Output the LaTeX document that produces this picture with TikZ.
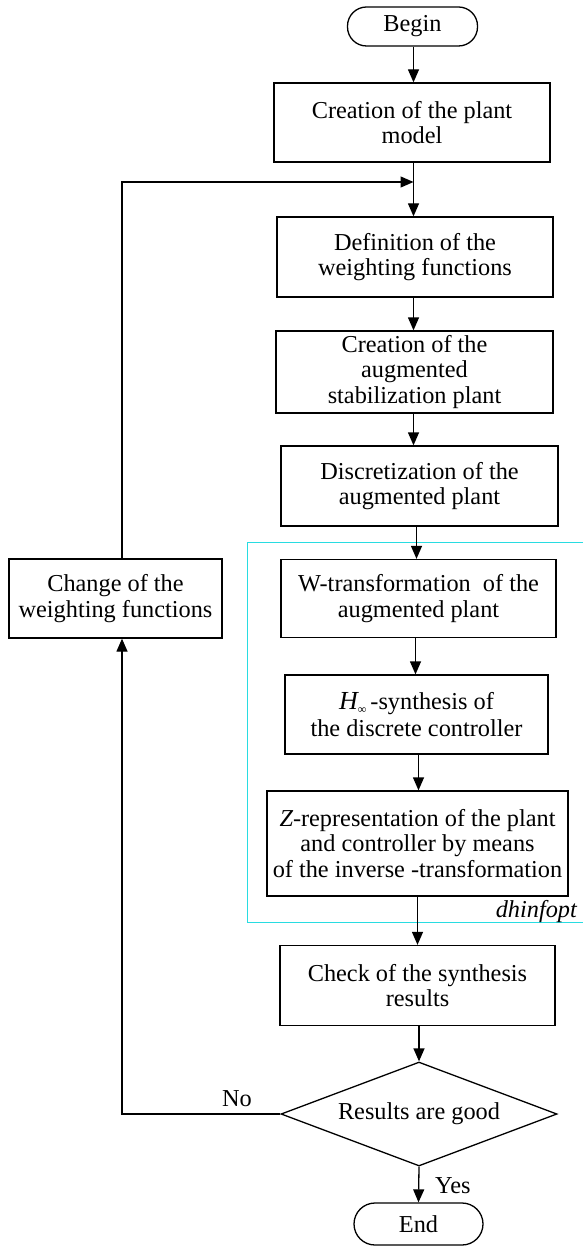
\documentclass[tikz,border=0pt]{standalone}
\usepackage{fontspec}
\setmainfont{Liberation Serif}
\usetikzlibrary{arrows.meta,shapes.geometric}
\tikzset{
  stepbox/.style={draw,line width=1.3pt,rectangle,align=center,inner sep=0pt},
  termbox/.style={draw,line width=1.3pt,rectangle,rounded corners=19pt,align=center,inner sep=0pt},
  decbox/.style={draw,line width=1.3pt,diamond,shape aspect=2.65,align=center,inner sep=0pt,minimum width=276pt,minimum height=104pt},
  flow/.style={line width=1.3pt,-{Triangle[length=13pt,width=11pt]}},
  frameline/.style={draw={rgb,255:red,40;green,220;blue,225},line width=1pt},
  lbl/.style={inner sep=0pt}
}
\begin{document}
\begin{tikzpicture}[x=1pt,y=-1pt,every node/.style={font=\fontsize{24.3}{25.5}\selectfont}]
\useasboundingbox (0,0) rectangle (583,1246);
% dhinfopt frame
\draw[frameline] (583,542) -- (247,542) -- (247,922) -- (583,922);
\node[lbl,font=\fontsize{24.3}{25.5}\selectfont\itshape,anchor=base east] (dh) at (577,917) {dhinfopt};

\node[termbox,minimum width=130pt,minimum height=39pt] (begin) at (412.5,26.5) {Begin};
\node[stepbox,minimum width=276pt,minimum height=79pt] (b1) at (412,122.5) {Creation of the plant\\model};
\node[stepbox,minimum width=276pt,minimum height=80pt] (b2) at (415,257) {Definition of the\\weighting functions};
\node[stepbox,minimum width=277pt,minimum height=82pt] (b3) at (414.5,372) {Creation of the\\augmented\\stabilization plant};
\node[stepbox,minimum width=277pt,minimum height=80pt] (b4) at (419.5,486) {Discretization of the\\augmented plant};
\node[stepbox,minimum width=275pt,minimum height=78pt] (b5) at (418.5,598.5) {W-transformation\ \ of the\\augmented plant};
\node[stepbox,minimum width=263pt,minimum height=79pt] (b6) at (416.5,714.5) {{\fontsize{26}{26}\selectfont\itshape H}\raisebox{-0.3ex}{\fontsize{12}{12}\selectfont ∞}\,-synthesis of\\[1pt]the discrete controller};
\node[stepbox,minimum width=301pt,minimum height=105pt] (b7) at (417.5,843.5) {{\itshape Z}-representation of the plant\\and controller by means\\of the inverse -transformation};
\node[stepbox,minimum width=275pt,minimum height=80pt] (b8) at (417.5,985.5) {Check of the synthesis\\results};
\node[decbox] (dec) at (419,1114) {Results are good};
\node[termbox,minimum width=129pt,minimum height=42pt,rounded corners=21pt] (end) at (418.5,1224) {End};
\node[stepbox,minimum width=213pt,minimum height=79pt] (chg) at (115.5,598.5) {Change of the\\weighting functions};

\coordinate (merge) at (413.5,182);
\coordinate (fbtop) at (122,182);
\coordinate (fbbot) at (122,1114);

\draw[flow] (begin.south -| merge) -- (b1.north -| merge);
\draw[flow] (b1.south -| merge) -- (b2.north -| merge);
\draw[flow] (b2.south -| merge) -- (b3.north -| merge);
\draw[flow] (b3.south -| merge) -- (b4.north -| merge);
\draw[flow] ([xshift=-3pt]b4.south) -- ([xshift=-3pt]b4.south |- b5.north);
\draw[flow] ([xshift=-3pt]b5.south) -- ([xshift=-3pt]b5.south |- b6.north);
\draw[flow] ([xshift=2pt]b6.south) -- ([xshift=2pt]b6.south |- b7.north);
\draw[flow] (b7.south) -- (b7.south |- b8.north);
\draw[flow] (b8.south -| dec.north) -- (dec.north);
\draw[flow] (dec.south) -- (end.north);
\node[lbl,anchor=base west] (yes) at (435,1193) {Yes};
% feedback loop
\draw[flow] (dec.west) -- (fbbot) -- (fbbot |- chg.south);
\node[lbl,anchor=base] (no) at (237,1106) {No};
\draw[flow] (fbbot |- chg.north) -- (fbtop) -- (merge);
\end{tikzpicture}
\end{document}
